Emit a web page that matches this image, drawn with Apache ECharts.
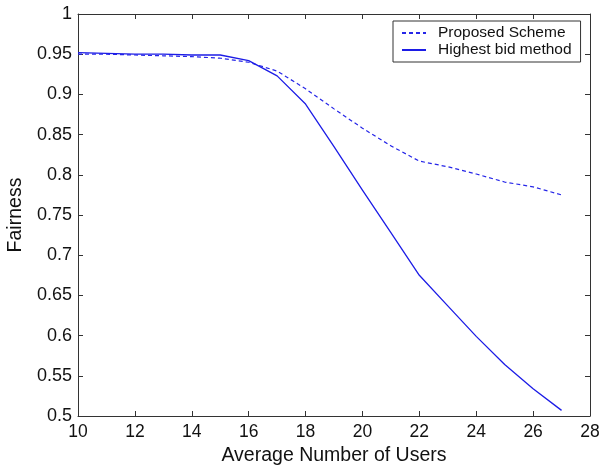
<!DOCTYPE html>
<html>
<head>
<meta charset="utf-8">
<script src="https://cdn.jsdelivr.net/npm/echarts@6/dist/echarts.min.js"></script>
<style>html,body{margin:0;padding:0;background:#fff}#c{width:602px;height:465px}</style>
</head>
<body>
<div id="c"></div>
<script>
const users = [10, 11, 12, 13, 14, 15, 16, 17, 18, 19, 20, 21, 22, 23, 24, 25, 26, 27];
const proposedScheme = [0.950, 0.950, 0.949, 0.948, 0.947, 0.945, 0.940, 0.929, 0.907, 0.882, 0.858, 0.836, 0.817, 0.810, 0.801, 0.791, 0.785, 0.775];
const highestBid = [0.952, 0.951, 0.950, 0.950, 0.949, 0.949, 0.942, 0.923, 0.888, 0.835, 0.781, 0.728, 0.675, 0.637, 0.599, 0.564, 0.534, 0.507];
const seriesNames = ['Proposed Scheme', 'Highest bid method'];

const font = 'Liberation Sans, Arial, Helvetica, sans-serif';
const axisColor = '#333';
const chart = echarts.init(document.getElementById('c'), null, {renderer: 'canvas'});
const baseAxisLine = {show: true, lineStyle: {color: axisColor, width: 1}};
const tickIn = {show: true, inside: true, length: 5, lineStyle: {color: axisColor, width: 1}};
const fmt = v => String(+(+v).toFixed(2));

chart.setOption({
  animation: false,
  backgroundColor: '#fff',
  grid: {left: 78, right: 12, top: 14, bottom: 49, containLabel: false, outerBoundsMode: 'none'},
  legend: {
    orient: 'vertical',
    left: 393, top: 21,
    padding: [4, 9, 4, 8],
    itemWidth: 24, itemHeight: 15, itemGap: 1,
    borderColor: axisColor, borderWidth: 1, backgroundColor: '#fff',
    itemStyle: {opacity: 0},
    textStyle: {fontFamily: font, fontSize: 15.5, color: '#111', padding: [0, 0, 0, 7]},
    data: seriesNames
  },
  xAxis: [{
    type: 'value', position: 'bottom', min: 10, max: 28, interval: 2,
    axisLine: baseAxisLine, axisTick: tickIn, splitLine: {show: false},
    axisLabel: {fontFamily: font, fontSize: 17.5, color: '#111', margin: 7, formatter: fmt},
    name: 'Average Number of Users', nameLocation: 'middle', nameGap: 27,
    nameTextStyle: {fontFamily: font, fontSize: 19.5, color: '#111'}
  }, {
    type: 'value', position: 'top', min: 10, max: 28, interval: 2,
    axisLine: baseAxisLine, axisTick: tickIn, splitLine: {show: false},
    axisLabel: {show: false}
  }],
  yAxis: [{
    type: 'value', position: 'left', min: 0.5, max: 1, interval: 0.05,
    axisLine: baseAxisLine, axisTick: tickIn, splitLine: {show: false},
    axisLabel: {fontFamily: font, fontSize: 18, color: '#111', margin: 6, formatter: fmt},
    name: 'Fairness', nameLocation: 'middle', nameGap: 48, nameRotate: 90,
    nameTextStyle: {fontFamily: font, fontSize: 19.5, color: '#111'}
  }, {
    type: 'value', position: 'right', min: 0.5, max: 1, interval: 0.05,
    axisLine: baseAxisLine, axisTick: tickIn, splitLine: {show: false},
    axisLabel: {show: false}
  }],
  series: [{
    name: seriesNames[0], type: 'line', symbol: 'none',
    data: users.map((u, i) => [u, proposedScheme[i]]),
    lineStyle: {color: '#2626e8', width: 1.2, type: [4, 3]},
    itemStyle: {color: '#2626e8'}
  }, {
    name: seriesNames[1], type: 'line', symbol: 'none',
    data: users.map((u, i) => [u, highestBid[i]]),
    lineStyle: {color: '#1c1ce6', width: 1.3, type: 'solid'},
    itemStyle: {color: '#1c1ce6'}
  }]
});
</script>
</body>
</html>
